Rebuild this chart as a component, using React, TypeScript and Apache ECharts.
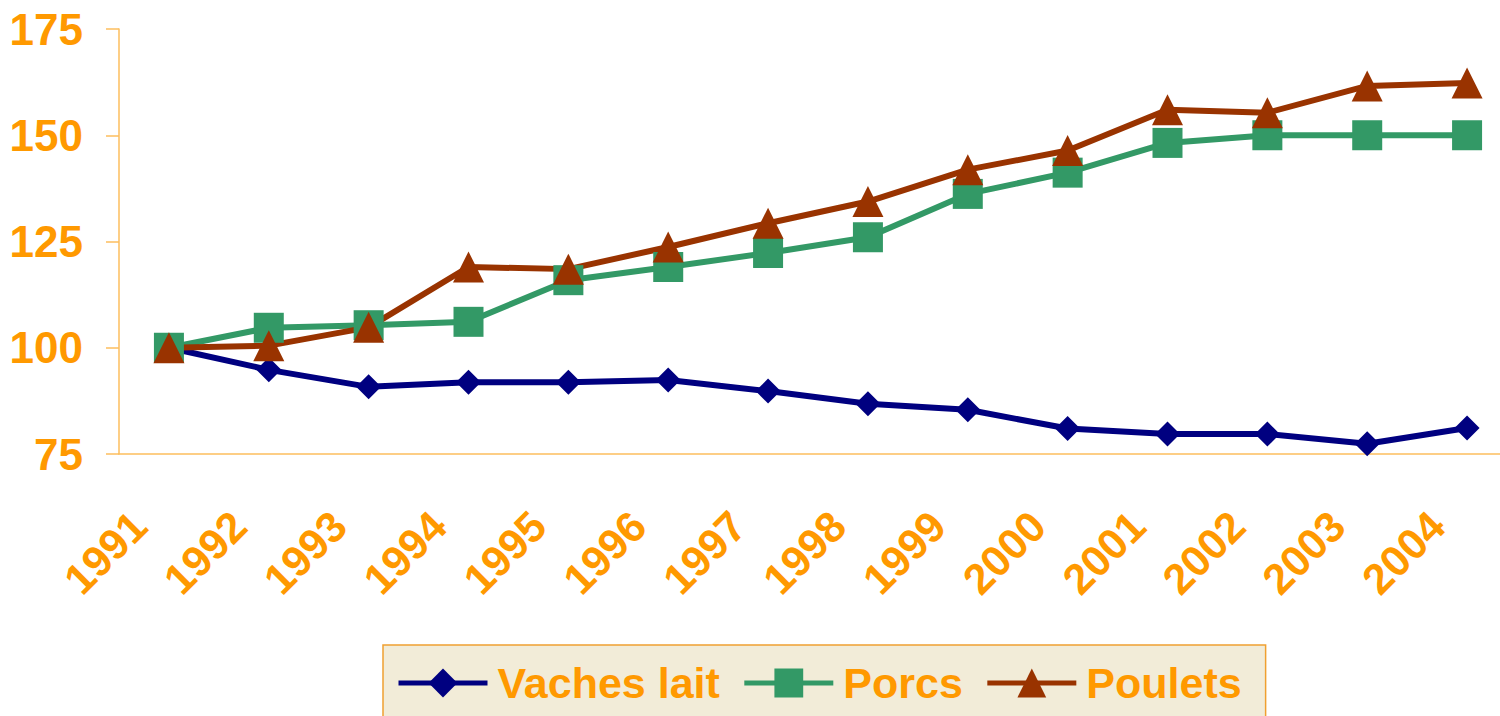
import React, { useEffect, useRef } from "react";
import * as echarts from "echarts";

const years = ["1991", "1992", "1993", "1994", "1995", "1996", "1997", "1998", "1999", "2000", "2001", "2002", "2003", "2004"];
const vachesLait = [100, 94.8, 90.8, 91.9, 91.9, 92.4, 89.8, 86.8, 85.4, 81.0, 79.7, 79.7, 77.4, 81.1];
const porcs = [100, 104.7, 105.3, 106.1, 115.9, 119.0, 122.3, 126.0, 136.2, 141.2, 148.2, 150.0, 150.0, 150.0];
const poulets = [100, 100.5, 104.8, 119.0, 118.5, 123.7, 129.3, 134.4, 141.9, 146.4, 156.0, 155.3, 161.6, 162.3];
const seriesNames = ["Vaches lait", "Porcs", "Poulets"];

const ORANGE = "#FF9900";
const AXIS = "#FDBE5E";
const FONT = "'Liberation Sans', Arial, sans-serif";

export default function App() {
  const ref = useRef<HTMLDivElement>(null);
  useEffect(() => {
    document.body.style.margin = "0";
    const chart = echarts.init(ref.current!, null, { renderer: "svg" });
    chart.setOption({
      animation: false,
      backgroundColor: "#ffffff",
      grid: { left: 119, top: 29, width: 1398, height: 425, outerBoundsMode: "none", containLabel: false },
      legend: {
        left: 383,
        top: 645,
        padding: [13, 24, 13, 13],
        backgroundColor: "#F2ECD8",
        borderColor: "#F0A030",
        borderWidth: 1.5,
        itemWidth: 89,
        itemHeight: 36,
        itemGap: 22,
        data: seriesNames,
        lineStyle: { width: 5 },
        textStyle: {
          color: ORANGE,
          fontSize: 43,
          fontWeight: "bold",
          fontFamily: FONT,
          padding: [0, 0, 0, 5],
          lineHeight: 50,
        },
      },
      xAxis: {
        type: "category",
        data: years,
        boundaryGap: true,
        axisLine: { lineStyle: { color: AXIS, width: 1.5 } },
        axisTick: { show: false },
        axisLabel: {
          interval: 0,
          rotate: 45,
          margin: 35,
          padding: [0, 42, 0, 0],
          color: ORANGE,
          fontSize: 43,
          fontWeight: "bold",
          fontFamily: FONT,
        },
        splitLine: { show: false },
      },
      yAxis: {
        type: "value",
        min: 75,
        max: 175,
        interval: 25,
        axisLine: { show: true, lineStyle: { color: AXIS, width: 1.5 } },
        axisTick: { show: true, length: 13, lineStyle: { color: AXIS, width: 1.5 } },
        axisLabel: {
          margin: 36,
          color: ORANGE,
          fontSize: 44,
          fontWeight: "bold",
          fontFamily: FONT,
        },
        splitLine: { show: false },
      },
      series: [
        {
          name: seriesNames[0],
          type: "line",
          data: vachesLait,
          symbol: "diamond",
          symbolSize: 25,
          lineStyle: { color: "#000080", width: 6 },
          itemStyle: { color: "#000080" },
        },
        {
          name: seriesNames[1],
          type: "line",
          data: porcs,
          symbol: "rect",
          symbolSize: 30,
          lineStyle: { color: "#339966", width: 6 },
          itemStyle: { color: "#339966" },
        },
        {
          name: seriesNames[2],
          type: "line",
          data: poulets,
          symbol: "triangle",
          symbolSize: 31,
          lineStyle: { color: "#993300", width: 6 },
          itemStyle: { color: "#993300" },
        },
      ],
    });
    return () => chart.dispose();
  }, []);
  return <div ref={ref} style={{ position: "fixed", left: 0, top: 0, width: 1500, height: 716 }} />;
}
